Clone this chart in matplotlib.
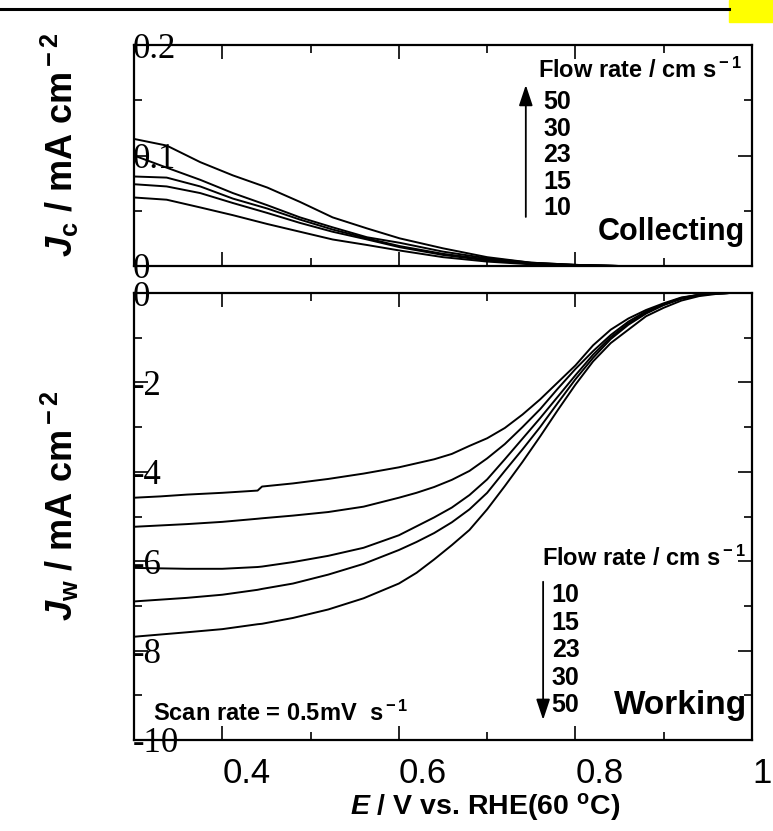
import numpy as np
import matplotlib
matplotlib.use('Agg')
import matplotlib.pyplot as plt
from matplotlib.ticker import MultipleLocator
from matplotlib.patches import Rectangle
from matplotlib.lines import Line2D

plt.rcParams['font.family'] = 'Liberation Sans'
plt.rcParams['axes.unicode_minus'] = False
plt.rcParams['mathtext.fontset'] = 'custom'
plt.rcParams['mathtext.rm'] = 'Liberation Sans:bold'
plt.rcParams['mathtext.it'] = 'Liberation Sans:italic:bold'
plt.rcParams['mathtext.bf'] = 'Liberation Sans:bold'

# collecting electrode current, flow rates 50 / 30 / 23 / 15 / 10 cm s-1
E_c = [0.30, 0.337, 0.375, 0.412, 0.451, 0.488, 0.525, 0.564, 0.601, 0.65, 0.70, 0.75, 0.80, 0.85, 0.975]
jc_50 = [0.115, 0.109, 0.094, 0.082, 0.071, 0.058, 0.044, 0.034, 0.025, 0.016, 0.008, 0.003, 0.001, 0.0, 0.0]
jc_30 = [0.100, 0.089, 0.078, 0.066, 0.055, 0.044, 0.035, 0.026, 0.021, 0.013, 0.007, 0.003, 0.001, 0.0, 0.0]
jc_23 = [0.081, 0.080, 0.072, 0.061, 0.052, 0.042, 0.033, 0.025, 0.018, 0.011, 0.006, 0.0025, 0.001, 0.0, 0.0]
jc_15 = [0.074, 0.072, 0.066, 0.057, 0.048, 0.039, 0.031, 0.024, 0.017, 0.010, 0.005, 0.002, 0.0005, 0.0, 0.0]
jc_10 = [0.062, 0.060, 0.053, 0.046, 0.038, 0.031, 0.024, 0.019, 0.014, 0.008, 0.004, 0.0015, 0.0005, 0.0, 0.0]

# working electrode current, flow rates 10 / 15 / 23 / 30 / 50 cm s-1
E_w = [0.30, 0.33, 0.36, 0.40, 0.44, 0.445, 0.48, 0.52, 0.56, 0.60, 0.62, 0.64, 0.66, 0.68, 0.70,
       0.72, 0.74, 0.76, 0.78, 0.80, 0.82, 0.84, 0.86, 0.88, 0.90, 0.92, 0.94, 0.96, 0.975]
jw_10 = [-4.58, -4.55, -4.51, -4.47, -4.42, -4.33, -4.26, -4.16, -4.04, -3.90, -3.81, -3.72, -3.60, -3.42, -3.25,
         -3.02, -2.72, -2.38, -2.00, -1.62, -1.17, -0.82, -0.57, -0.38, -0.23, -0.10, -0.04, -0.01, 0.0]
jw_15 = [-5.23, -5.20, -5.17, -5.12, -5.05, -5.04, -4.98, -4.90, -4.78, -4.58, -4.47, -4.34, -4.18, -3.98, -3.70,
         -3.38, -3.00, -2.60, -2.14, -1.70, -1.30, -0.94, -0.64, -0.41, -0.25, -0.11, -0.04, -0.01, 0.0]
jw_23 = [-6.15, -6.16, -6.17, -6.17, -6.13, -6.12, -6.02, -5.88, -5.70, -5.42, -5.22, -5.02, -4.80, -4.52, -4.17,
         -3.72, -3.26, -2.80, -2.32, -1.84, -1.38, -0.99, -0.68, -0.44, -0.26, -0.12, -0.04, -0.01, 0.0]
jw_30 = [-6.90, -6.86, -6.82, -6.75, -6.64, -6.62, -6.50, -6.30, -6.06, -5.75, -5.57, -5.37, -5.13, -4.84, -4.47,
         -3.98, -3.50, -3.00, -2.46, -1.93, -1.45, -1.03, -0.71, -0.46, -0.27, -0.13, -0.05, -0.01, 0.0]
jw_50 = [-7.69, -7.64, -7.59, -7.52, -7.41, -7.40, -7.27, -7.08, -6.83, -6.50, -6.26, -5.96, -5.64, -5.30, -4.84,
         -4.32, -3.78, -3.21, -2.62, -2.05, -1.53, -1.12, -0.82, -0.52, -0.33, -0.17, -0.07, -0.02, 0.0]

flow_up = ['50', '30', '23', '15', '10']
flow_down = ['10', '15', '23', '30', '50']

x_ticks = [0.4, 0.6, 0.8, 1.0]
x_ticklabels = ['0.4', '0.6', '0.8', '1']
yc_ticks = [0, 0.1, 0.2]
yc_ticklabels = ['0', '0.1', '0.2']
yw_ticks = [0, -2, -4, -6, -8, -10]
yw_ticklabels = ['0', '-2', '-4', '-6', '-8', '-10']

W, H = 773, 831
fig = plt.figure(figsize=(W / 100, H / 100), dpi=100)
ax1 = fig.add_axes([134 / W, 1 - 266 / H, 618 / W, 221 / H])
ax2 = fig.add_axes([134 / W, 1 - 740 / H, 618 / W, 447 / H])

lw = 1.4
for j in [jc_50, jc_30, jc_23, jc_15, jc_10]:
    ax1.plot(E_c, j, 'k-', lw=lw)
for j in [jw_10, jw_15, jw_23, jw_30, jw_50]:
    ax2.plot(E_w, j, 'k-', lw=lw)

for ax in [ax1, ax2]:
    ax.set_xlim(0.3, 1.0)
    ax.set_xticks(x_ticks)
    ax.xaxis.set_minor_locator(MultipleLocator(0.1))
    for s in ax.spines.values():
        s.set_linewidth(1.6)
    ax.tick_params(which='both', direction='in', top=True, right=True, width=1.2)
    ax.tick_params(which='major', length=10)
    ax.tick_params(which='minor', length=6)
    ax.tick_params(axis='y', pad=1)

ax1.set_ylim(0, 0.2)
ax1.set_yticks(yc_ticks)
ax1.yaxis.set_minor_locator(MultipleLocator(0.05))
ax1.set_yticklabels(yc_ticklabels, family='Liberation Serif', fontsize=25, ha='left')
ax1.tick_params(labelbottom=False)

ax2.set_ylim(-10, 0)
ax2.set_yticks(yw_ticks)
ax2.yaxis.set_minor_locator(MultipleLocator(1))
ax2.set_yticklabels(yw_ticklabels, family='Liberation Serif', fontsize=25, ha='left')
ax2.set_xticklabels(x_ticklabels, fontsize=25, ha='left')
ax2.tick_params(axis='x', pad=12)

ax1.set_ylabel(r'$J_{\rm c}$ / mA cm$^{\rm -2}$', fontsize=26, fontweight='bold')
ax1.yaxis.set_label_coords(-0.086, 0.55)
ax2.set_ylabel(r'$J_{\rm w}$ / mA cm$^{\rm -2}$', fontsize=26, fontweight='bold')
ax2.yaxis.set_label_coords(-0.086, 0.523)
ax2.set_xlabel(r'$E$ / V vs. RHE(60 $^{\rm o}$C)', fontsize=20.5, fontweight='bold')
ax2.xaxis.set_label_coords(0.568, -0.115)

# annotations, top panel
ax1.text(0.984, 0.887, r'Flow rate / cm s$^{\rm -1}$', transform=ax1.transAxes,
         ha='right', va='center', fontsize=17, fontweight='bold')
for i, f in enumerate(flow_up):
    ax1.text(0.662, 0.742 - i * 0.12, f, transform=ax1.transAxes,
             ha='left', va='center', fontsize=18, fontweight='bold')
ax1.annotate('', xy=(0.634, 0.819), xytext=(0.634, 0.222), xycoords='axes fraction',
             arrowprops=dict(arrowstyle='-|>,head_length=0.9,head_width=0.3', lw=1.3,
                             color='k', mutation_scale=14, shrinkA=0, shrinkB=0))
ax1.text(0.989, 0.154, 'Collecting', transform=ax1.transAxes,
         ha='right', va='center', fontsize=22, fontweight='bold')

# annotations, bottom panel
ax2.text(0.99, 0.407, r'Flow rate / cm s$^{\rm -1}$', transform=ax2.transAxes,
         ha='right', va='center', fontsize=17, fontweight='bold')
for i, f in enumerate(flow_down):
    ax2.text(0.676, 0.324 - i * 0.0615, f, transform=ax2.transAxes,
             ha='left', va='center', fontsize=18, fontweight='bold')
ax2.annotate('', xy=(0.662, 0.045), xytext=(0.662, 0.354), xycoords='axes fraction',
             arrowprops=dict(arrowstyle='-|>,head_length=0.9,head_width=0.3', lw=1.3,
                             color='k', mutation_scale=14, shrinkA=0, shrinkB=0))
ax2.text(0.992, 0.078, 'Working', transform=ax2.transAxes,
         ha='right', va='center', fontsize=24, fontweight='bold')
ax2.text(0.031, 0.06, r'Scan rate = 0.5mV  s$^{\rm -1}$', transform=ax2.transAxes,
         ha='left', va='center', fontsize=17, fontweight='bold')

# page decorations
fig.add_artist(Line2D([0, 729 / W], [1 - 9 / H, 1 - 9 / H], color='k', lw=2.2,
                      transform=fig.transFigure))
fig.add_artist(Rectangle((729 / W, 1 - 22 / H), 44 / W, 22 / H, color='#ffff00',
                         transform=fig.transFigure))

fig.savefig('out.png', dpi=100)
